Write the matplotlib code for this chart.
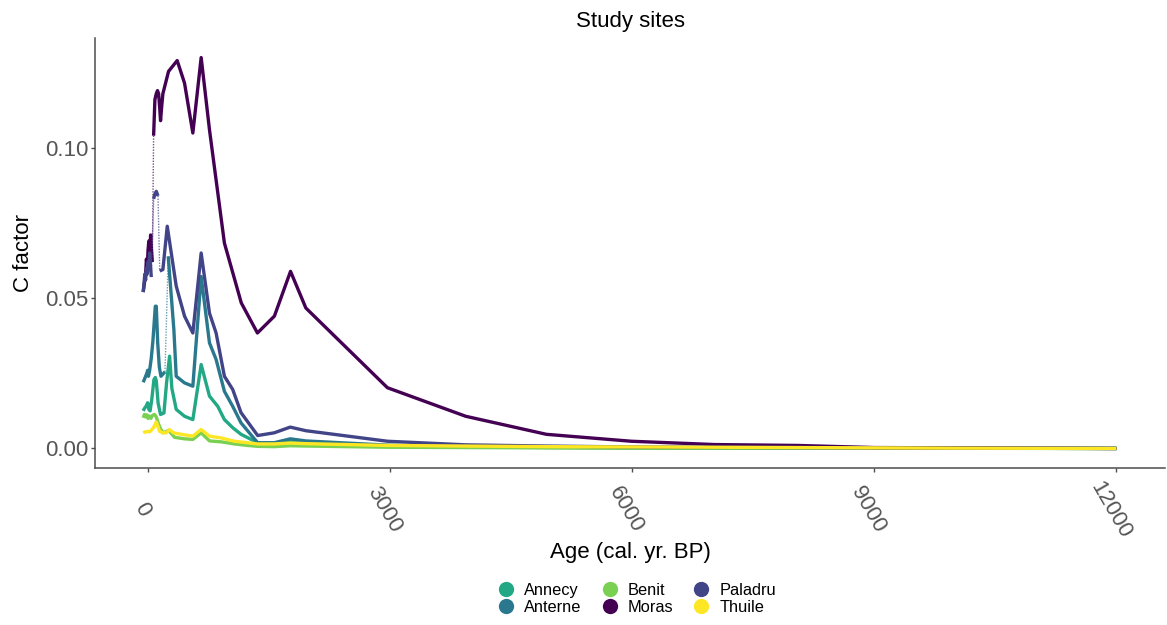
import numpy as np
import matplotlib
matplotlib.use("Agg")
import matplotlib.pyplot as plt
import matplotlib.transforms as mtransforms
from matplotlib.lines import Line2D

plt.rcParams["font.family"] = ["Liberation Sans", "DejaVu Sans"]

# --- data (age in cal. yr BP, C factor) ---
sites = ["Annecy", "Anterne", "Benit", "Moras", "Paladru", "Thuile"]
colors = ["#22A884", "#2A788E", "#7AD151", "#440154", "#414487", "#FDE725"]

annecy_age = [-55, -35, -20, 0, 15, 30, 50, 78, 95, 107, 130, 160, 202, 235, 272, 300,
              354, 457, 560, 663, 766, 869, 951, 1054, 1157, 1363, 1568, 1766, 1960,
              2970, 3940, 4940, 6000, 7000, 8000, 9000, 12000]
annecy_c = [0.0125, 0.0135, 0.014, 0.0152, 0.013, 0.0125, 0.016, 0.0229, 0.0236, 0.0225,
            0.015, 0.0113, 0.0118, 0.022, 0.0307, 0.020, 0.013, 0.0107, 0.0096, 0.0279,
            0.0174, 0.014, 0.0096, 0.0069, 0.0047, 0.0019, 0.0018, 0.0025, 0.002,
            0.0008, 0.0005, 0.0003, 0.0002, 0.0001, 0.0001, 0.0001, 0.0]

anterne_age = [-55, -40, -25, -10, 0, 10, 25, 45, 66, 95, 107, 125, 145, 165, 215, 255,
               325, 354, 457, 560, 663, 766, 848, 951, 1054, 1157, 1363, 1568, 1766, 1960,
               2970, 3940, 4940, 6000, 7000, 8000, 9000, 10000, 12000]
anterne_c = [0.022, 0.023, 0.024, 0.025, 0.026, 0.024, 0.026, 0.030, 0.036, 0.0473, 0.0473,
             0.035, 0.027, 0.024, 0.0255, 0.0639, 0.0395, 0.024, 0.0218, 0.0207, 0.0572,
             0.0351, 0.0296, 0.019, 0.014, 0.0085, 0.0019, 0.0019, 0.0032, 0.0025,
             0.0011, 0.0006, 0.0004, 0.0003, 0.0002, 0.0002, 0.0001, 0.0001, 0.0]

benit_age = [-55, -40, -25, -10, 5, 20, 40, 60, 86, 107, 130, 160, 190, 220, 260, 333,
             457, 560, 663, 766, 910, 1075, 1240, 1363, 1568, 1766, 1960, 2970, 3940,
             4940, 6000, 8000, 12000]
benit_c = [0.0102, 0.0113, 0.0105, 0.0112, 0.0100, 0.0108, 0.0100, 0.011, 0.0113, 0.0105,
           0.0085, 0.0065, 0.0052, 0.0055, 0.006, 0.0037, 0.0032, 0.0030, 0.0052, 0.0025,
           0.0022, 0.0015, 0.0010, 0.0007, 0.0006, 0.0009, 0.0008, 0.0004, 0.0003,
           0.0002, 0.0001, 0.0001, 0.0]

moras_age = [-55, -45, -35, -25, -15, -5, 5, 15, 25, 37, 48, 58, 74, 90, 107, 122, 136,
             150, 160, 175, 189, 259, 366, 457, 560, 663, 766, 951, 1160, 1360, 1570,
             1770, 1960, 2970, 3940, 4940, 5990, 7020, 8050, 9000, 10000, 11000, 12000]
moras_c = [0.052, 0.054, 0.056, 0.058, 0.063, 0.060, 0.066, 0.069, 0.065, 0.071, 0.066,
           0.062, 0.104, 0.116, 0.118, 0.119, 0.118, 0.113, 0.109, 0.114, 0.118, 0.1254,
           0.129, 0.1215, 0.1049, 0.130, 0.106, 0.0683, 0.0484, 0.0384, 0.044, 0.0589,
           0.0467, 0.0202, 0.0107, 0.0047, 0.0024, 0.0013, 0.001, 0.0003, 0.0002,
           0.0001, 0.0]

paladru_age = [-55, -45, -35, -25, -15, -5, 5, 15, 25, 45, 75, 86, 107, 128, 150, 189,
               243, 354, 457, 560, 663, 766, 848, 951, 1054, 1157, 1363, 1568, 1766, 1960,
               2970, 3940, 4940, 6000, 7000, 8000, 9000, 10000, 12000]
paladru_c = [0.052, 0.055, 0.058, 0.056, 0.060, 0.058, 0.062, 0.060, 0.065, 0.057, 0.083,
             0.0844, 0.0855, 0.084, 0.059, 0.0595, 0.0739, 0.054, 0.044, 0.0384, 0.065,
             0.045, 0.0384, 0.024, 0.0196, 0.0119, 0.0043, 0.0052, 0.0071, 0.0059,
             0.0024, 0.0012, 0.0008, 0.0005, 0.0004, 0.0003, 0.0002, 0.0001, 0.0]

thuile_age = [-55, -35, -15, 4, 25, 50, 75, 107, 125, 148, 189, 230, 272, 320, 416, 560,
              663, 766, 910, 1075, 1240, 1363, 1568, 1766, 1960, 2970, 3940, 4940, 6000,
              7000, 8000, 9000, 10000, 12000]
thuile_c = [0.0052, 0.0055, 0.0055, 0.0057, 0.0055, 0.0062, 0.007, 0.0088, 0.0075, 0.0057,
            0.0052, 0.0052, 0.0063, 0.0052, 0.0047, 0.0041, 0.0063, 0.0041, 0.0035,
            0.0024, 0.0019, 0.0015, 0.0015, 0.0018, 0.0016, 0.0010, 0.0008, 0.0006,
            0.0005, 0.0004, 0.0003, 0.0002, 0.0001, 0.0]

series = [(annecy_age, annecy_c), (anterne_age, anterne_c), (benit_age, benit_c),
          (moras_age, moras_c), (paladru_age, paladru_c), (thuile_age, thuile_c)]

fig = plt.figure(figsize=(11.67, 6.25), dpi=100)
ax = fig.add_axes([95 / 1167, 1 - 468 / 625, 1070 / 1167, 430 / 625])

for (age, c), col in zip(series, colors):
    age = np.array(age, dtype=float)
    c = np.array(c)
    slope = np.abs(np.diff(c) / np.diff(age))
    steep = slope > 0.0008
    # near-vertical jumps render as thin dotted strokes in the original
    for i in np.where(steep)[0]:
        ax.plot(age[i:i + 2], c[i:i + 2], color=col, lw=1.0, ls=(0, (1, 1)), alpha=0.7)
    segs_x, segs_y = [], []
    cur_x, cur_y = [age[0]], [c[0]]
    for i in range(len(age) - 1):
        if steep[i]:
            segs_x.append(cur_x); segs_y.append(cur_y)
            cur_x, cur_y = [age[i + 1]], [c[i + 1]]
        else:
            cur_x.append(age[i + 1]); cur_y.append(c[i + 1])
    segs_x.append(cur_x); segs_y.append(cur_y)
    for sx, sy in zip(segs_x, segs_y):
        ax.plot(sx, sy, color=col, lw=2.4, solid_joinstyle="round", solid_capstyle="butt")

ax.set_xlim(-652, 12602)
ax.set_ylim(-0.0065, 0.1365)
ax.set_xticks([0, 3000, 6000, 9000, 12000])
ax.set_yticks([0.0, 0.05, 0.10])
ax.set_yticklabels(["0.00", "0.05", "0.10"])

for s in ["top", "right"]:
    ax.spines[s].set_visible(False)
for s in ["left", "bottom"]:
    ax.spines[s].set_color("#4d4d4d")
    ax.spines[s].set_linewidth(1.1)

ax.tick_params(axis="both", colors="#4d4d4d", length=3, width=1.0, labelsize=16,
               labelcolor="#555555")
ax.tick_params(axis="x", pad=27)
ax.tick_params(axis="y", pad=2)
offset = mtransforms.ScaledTranslation(-6 / 100, 0, fig.dpi_scale_trans)
for lab in ax.get_xticklabels():
    lab.set_rotation(-60)
    lab.set_rotation_mode("anchor")
    lab.set_ha("center")
    lab.set_va("center")
    lab.set_transform(lab.get_transform() + offset)

ax.set_xlabel("Age (cal. yr. BP)", fontsize=16, labelpad=0)
ax.set_ylabel("C factor", fontsize=16, labelpad=8)
ax.set_title("Study sites", fontsize=16, pad=8)

handles = [Line2D([], [], ls="none", marker="o", markersize=11, color=col,
                  markeredgewidth=0) for col in colors]
fig.legend(handles, sites, loc="center", bbox_to_anchor=(637 / 1167, 1 - 599 / 625),
           ncol=3, frameon=False, fontsize=11.8, handlelength=1.0, handletextpad=0.6,
           columnspacing=1.2, labelspacing=0.15, borderpad=0)

fig.savefig("out.png", dpi=100)
